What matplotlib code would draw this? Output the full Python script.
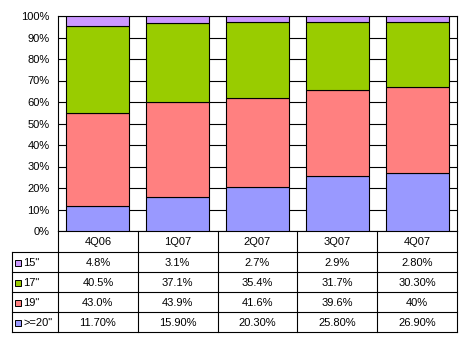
import numpy as np
import matplotlib.pyplot as plt

# Donnees
quarters = ["4Q06", "1Q07", "2Q07", "3Q07", "4Q07"]
series = ['>=20"', '19"', '17"', '15"']          # de bas en haut
values = {
    '>=20"': [11.7, 15.9, 20.3, 25.8, 26.9],
    '19"': [43.0, 43.9, 41.6, 39.6, 40.0],
    '17"': [40.5, 37.1, 35.4, 31.7, 30.3],
    '15"': [4.8, 3.1, 2.7, 2.9, 2.8],
}
cell_text = {
    '15"': ["4.8%", "3.1%", "2.7%", "2.9%", "2.80%"],
    '17"': ["40.5%", "37.1%", "35.4%", "31.7%", "30.30%"],
    '19"': ["43.0%", "43.9%", "41.6%", "39.6%", "40%"],
    '>=20"': ["11.70%", "15.90%", "20.30%", "25.80%", "26.90%"],
}
table_order = ['15"', '17"', '19"', '>=20"']
colors = {'>=20"': "#9999FF", '19"': "#FF8080", '17"': "#99CC00", '15"': "#CC99FF"}

plt.rcParams['font.family'] = ['Liberation Sans', 'DejaVu Sans']
W, H = 463, 340
fig = plt.figure(figsize=(W / 100, H / 100), dpi=100)

# Zone du graphique (pixels)
x0, x1, ytop, ybot = 58, 457, 16, 231
ax = fig.add_axes([x0 / W, 1 - ybot / H, (x1 - x0) / W, (ybot - ytop) / H])
x = np.arange(len(quarters))
bottom = np.zeros(len(quarters))
for s in series:
    v = np.array(values[s])
    ax.bar(x, v, 0.79, bottom=bottom, color=colors[s], edgecolor="black",
           linewidth=0.8, zorder=3)
    bottom += v
ax.set_xlim(-0.5, len(quarters) - 0.5)
ax.set_ylim(0, 100)
ax.set_yticks(np.arange(0, 101, 10))
ax.set_yticklabels([f"{t}%" for t in range(0, 101, 10)], fontsize=8)
ax.set_xticks([])
ax.tick_params(axis="y", length=0, pad=6)
ax.yaxis.grid(True, color="black", linewidth=0.8, zorder=0)
for sp in ax.spines.values():
    sp.set_color("black")
    sp.set_linewidth(0.8)

# Tableau de donnees
tb = fig.add_axes([0, 0, 1, 1])
tb.set_xlim(0, W)
tb.set_ylim(H, 0)
tb.axis("off")
lx = 12
cols = np.linspace(x0, x1, len(quarters) + 1)
rows = [231, 252, 272, 292, 312, 332]
lw = 0.8
for yy in rows[1:]:
    tb.plot([lx, x1], [yy, yy], color="black", lw=lw)
tb.plot([lx, lx], [rows[1], rows[-1]], color="black", lw=lw)
for cx in cols:
    tb.plot([cx, cx], [rows[0], rows[-1]], color="black", lw=lw)

for i, q in enumerate(quarters):
    tb.text((cols[i] + cols[i + 1]) / 2, (rows[0] + rows[1]) / 2 + 0.5, q,
            ha="center", va="center", fontsize=8)
for r, s in enumerate(table_order):
    yc = (rows[r + 1] + rows[r + 2]) / 2 + 0.5
    tb.add_patch(plt.Rectangle((15, yc - 3), 6, 6, facecolor=colors[s],
                               edgecolor="black", lw=0.7))
    tb.text(23, yc, s, ha="left", va="center", fontsize=8)
    for i in range(len(quarters)):
        tb.text((cols[i] + cols[i + 1]) / 2, yc, cell_text[s][i],
                ha="center", va="center", fontsize=8)

plt.savefig("out.png", dpi=100)
